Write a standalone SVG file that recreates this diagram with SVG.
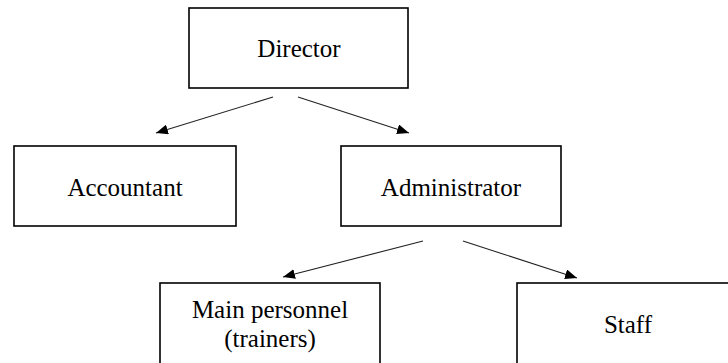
<svg xmlns="http://www.w3.org/2000/svg" width="728" height="363" viewBox="0 0 728 363">
<style>
.box{fill:#fff;stroke:#000;stroke-width:1.6}
.lbl{font-family:"Liberation Serif","Times New Roman",serif;font-size:25px;fill:#000;text-anchor:middle}
.conn{stroke:#222;stroke-width:1.1;fill:none;marker-end:url(#ah)}
</style>
<defs>
<marker id="ah" viewBox="0 0 12 10" refX="12" refY="5" markerWidth="12" markerHeight="10" markerUnits="userSpaceOnUse" orient="auto">
<path d="M0,0 L12,5 L0,10 Z" fill="#000"/>
</marker>
</defs>
<rect width="728" height="363" fill="#fff"/>
<g id="connectors">
<line class="conn" x1="273" y1="97" x2="156" y2="133"/>
<line class="conn" x1="298" y1="97" x2="409" y2="133"/>
<line class="conn" x1="423" y1="241" x2="283" y2="277"/>
<line class="conn" x1="463" y1="241" x2="577" y2="278"/>
</g>
<g id="director">
<rect class="box" x="189" y="8" width="219" height="80"/>
<text class="lbl" x="299" y="57">Director</text>
</g>
<g id="accountant">
<rect class="box" x="14" y="146" width="222" height="80"/>
<text class="lbl" x="125" y="196">Accountant</text>
</g>
<g id="administrator">
<rect class="box" x="341" y="146" width="220" height="80"/>
<text class="lbl" x="451" y="196">Administrator</text>
</g>
<g id="main-personnel">
<rect class="box" x="160" y="283" width="220" height="100"/>
<text class="lbl" x="270" y="318">Main personnel</text>
<text class="lbl" x="270" y="347">(trainers)</text>
</g>
<g id="staff">
<rect class="box" x="517" y="283" width="230" height="100"/>
<text class="lbl" x="628" y="333">Staff</text>
</g>
</svg>
